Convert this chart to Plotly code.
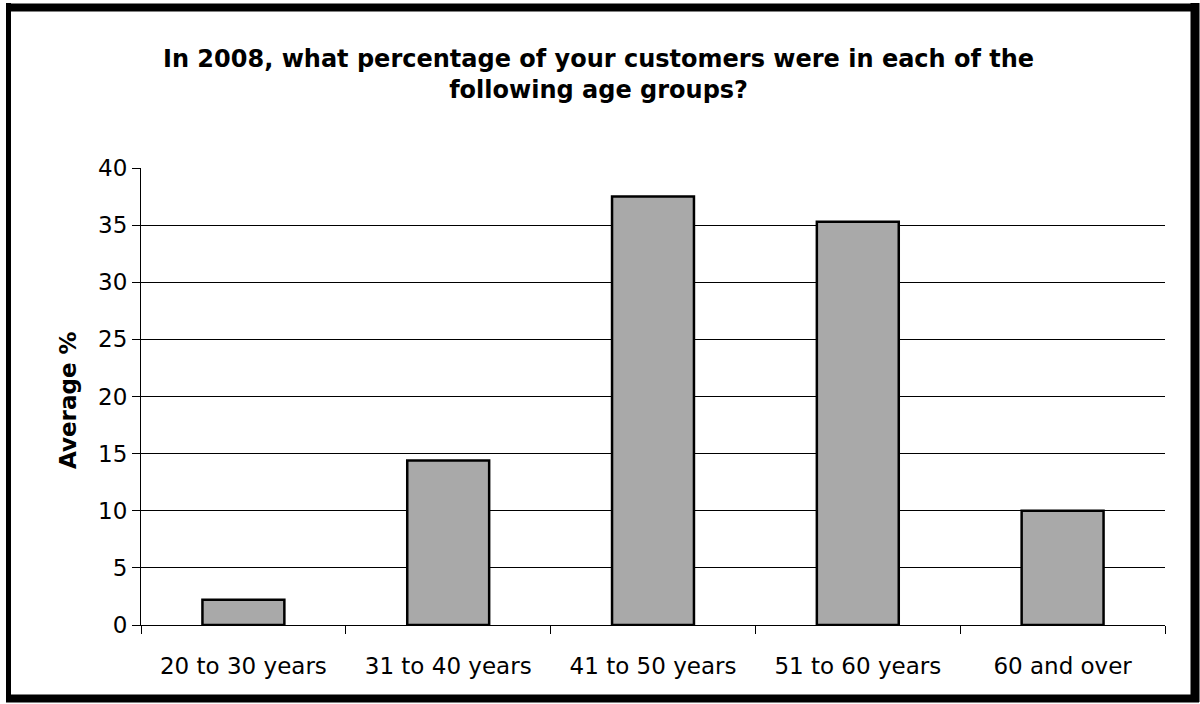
import plotly.graph_objects as go

# Survey data: average share of customers per age group in 2008
age_groups = ["20 to 30 years", "31 to 40 years", "41 to 50 years", "51 to 60 years", "60 and over"]
average_pct = [2.2, 14.4, 37.5, 35.3, 10.0]
y_ticks = [0, 5, 10, 15, 20, 25, 30, 35, 40]

W, H = 1200, 704
# plot-area edges in pixels
L, R, T, B = 141, 1165, 168, 625
PW, PH = R - L, B - T


def px_x(x):
    return (x - L) / PW


def px_y(y):
    return (B - y) / PH


fig = go.Figure()
fig.add_trace(go.Bar(
    x=age_groups,
    y=average_pct,
    width=0.4,
    marker=dict(color="#a9a9a9", line=dict(color="black", width=2.5)),
    hoverinfo="x+y",
))

font = "DejaVu Sans"

# frame around the whole chart (heavier on the right and bottom)
frame = [
    (8.5, 3, 8.5, 702, 5),
    (6, 7.5, 1199, 7.5, 8),
    (1195, 3, 1195, 702, 9),
    (6, 698.5, 1199, 698.5, 8),
]
shapes = [
    dict(type="line", xref="paper", yref="paper",
         x0=px_x(x0), y0=px_y(y0), x1=px_x(x1), y1=px_y(y1),
         line=dict(color="black", width=w))
    for x0, y0, x1, y1, w in frame
]

fig.update_layout(
    width=W, height=H,
    margin=dict(l=L, r=W - R, t=T, b=H - B, pad=0),
    paper_bgcolor="white",
    plot_bgcolor="white",
    showlegend=False,
    bargap=0.6,
    font=dict(family=font, color="black"),
    xaxis=dict(
        showline=True, linecolor="black", linewidth=1,
        ticks="outside", tickson="boundaries", ticklen=8, tickcolor="black",
        tickfont=dict(family=font, size=23, color="black"),
        ticklabelstandoff=20,
        showgrid=False,
    ),
    yaxis=dict(
        range=[0, 40],
        tickvals=y_ticks,
        showline=True, linecolor="black", linewidth=1,
        ticks="outside", ticklen=8, tickcolor="black",
        tickfont=dict(family=font, size=23, color="black"),
        showgrid=True, gridcolor="black", gridwidth=1,
        zeroline=False,
    ),
    shapes=shapes,
    annotations=[
        dict(
            text="<b>In 2008, what percentage of your customers were in each of the<br>following age groups?</b>",
            xref="paper", yref="paper",
            x=px_x(598), y=px_y(74), xanchor="center", yanchor="middle",
            showarrow=False, align="center",
            font=dict(family=font, size=24, color="black"),
        ),
        dict(
            text="<b>Average %</b>", textangle=-90,
            xref="paper", yref="paper",
            x=px_x(68), y=px_y(400), xanchor="center", yanchor="middle",
            showarrow=False, font=dict(family=font, size=23, color="black"),
        ),
    ],
)

fig.write_html("out.html")
